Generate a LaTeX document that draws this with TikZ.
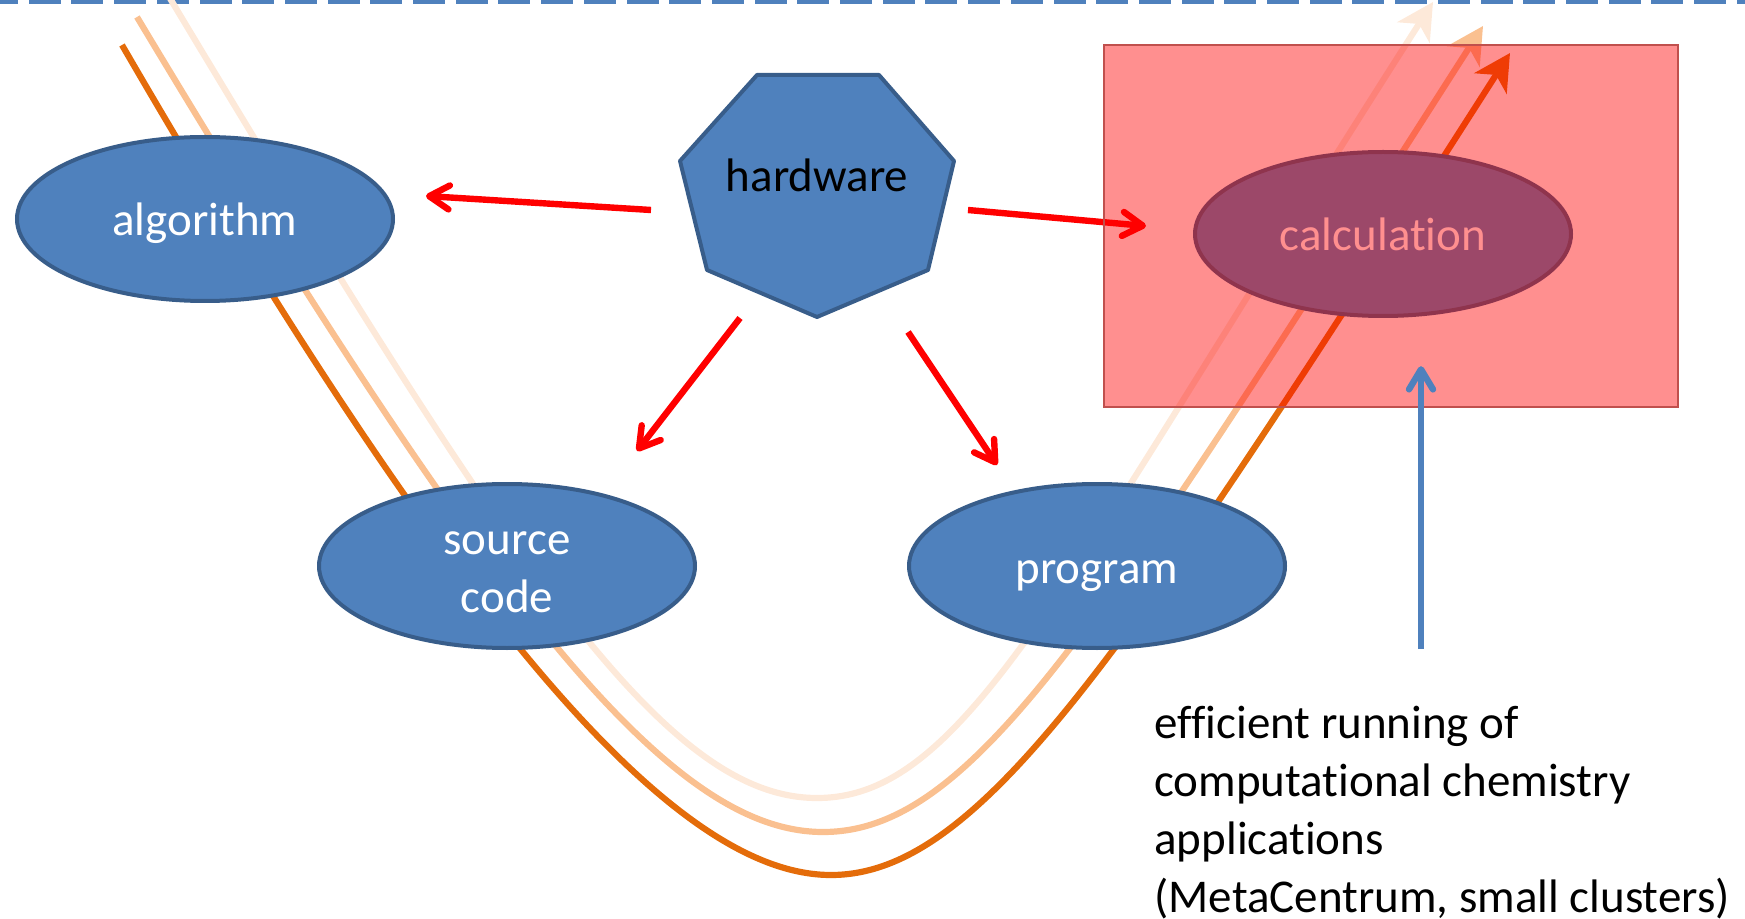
\documentclass[tikz,border=0pt]{standalone}
\usepackage{fontspec}
\setmainfont[Ligatures={NoCommon}]{Carlito}
\usetikzlibrary{arrows.meta,calc,shapes.geometric}
\definecolor{officeblue}{HTML}{4F81BD}
\definecolor{officeline}{HTML}{385D8A}
\definecolor{darkorange}{HTML}{E46C0A}
\definecolor{midorange}{HTML}{FAC090}
\definecolor{paleorange}{HTML}{FDE9D9}
\definecolor{boxred}{HTML}{C0504D}
\tikzset{
  blob/.style={ellipse, fill=officeblue, draw=officeline, line width=2pt,
    minimum width=188pt, minimum height=82pt, text=white, inner sep=0pt,
    text height=24pt, text depth=7pt},
  hwarrow/.style={red, line width=3.2pt, -{Straight Barb[length=10pt,width=12pt,round]}},
  notearrow/.style={officeblue, line width=3.2pt, -{Straight Barb[length=10pt,width=12pt,round]}},
  flow/.style={line width=3.1pt, -{Stealth[length=18pt,width=19pt,inset=5pt]}},
}
\begin{document}
\begin{tikzpicture}[x=0.5pt,y=-0.5pt,font=\fontsize{23.5}{29}\selectfont]
\useasboundingbox (0,0) rectangle (1745,919);
\draw[officeblue, line width=2.5pt, dash pattern=on 16pt off 5.35pt, dash phase=7pt] (0,2) -- (1745,2);
\draw[flow, paleorange] (168,-5) .. controls (516,575) and (667,798) .. (817,798) .. controls (967,798) and (1062,582) .. (1433,2);
\draw[flow, midorange] (137,17) .. controls (497,617) and (673,832) .. (823,832) .. controls (973,832) and (1099,626) .. (1483,26);
\draw[flow, darkorange] (122,45) .. controls (470,645) and (681,875) .. (831,875) .. controls (981,875) and (1126,653) .. (1510,53);
\node[blob] (alg) at (205,219) {algorithm};
\node[blob, align=center, text height=46.9pt, text depth=0pt] (src) at (507,566) {source\\code};
\node[blob] (prog) at (1097,566) {program};
\node[blob] (run) at (1383,234) {calculation};
\draw[fill=officeblue, draw=officeline, line width=2pt, line join=round]
  (757,75) -- (879,75) -- (954,161) -- (928,270) -- (817,317) -- (707,270) -- (680,161) -- cycle;
\node (hw) at (817,175) {hardware};
\draw[hwarrow] ($(hw)+(-166,35)$) -- ($(alg)+(221,-23)$);
\draw[hwarrow] ($(hw)+(151,35)$) -- ($(run)+(-237,-8)$);
\draw[hwarrow] ($(hw)+(-77,143)$) -- ($(src)+(130,-115)$);
\draw[hwarrow] ($(hw)+(91,157)$) -- ($(prog)+(-100,-101)$);
\node[fill=red, fill opacity=0.44, draw=boxred, line width=1.2pt, minimum width=287pt,
  minimum height=181pt, inner sep=0pt] (area) at (1391,226) {};
\node[anchor=north west, align=left, inner sep=0pt] (note) at (1154,706)
  {efficient running of\\computational chemistry\\applications\\(MetaCentrum, small clusters)};
\draw[notearrow] ($(note.north west)+(267,-57)$) -- ($(area.south)+(30,-42)$);
\end{tikzpicture}
\end{document}
